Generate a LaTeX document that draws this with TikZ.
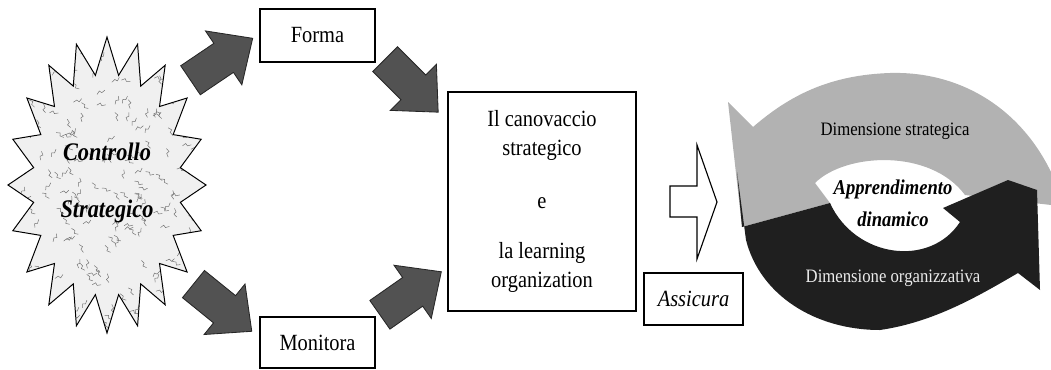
\documentclass[tikz,border=0pt]{standalone}
\usepackage{fontspec}
\setmainfont{Liberation Serif}[FakeStretch=0.88]
\usetikzlibrary{positioning}

\tikzset{
  box/.style={draw, line width=0.8pt, inner sep=0pt, font=\fontsize{16.5}{20.6}\selectfont},
  bigarrow/.pic={
    \draw[fill=black!68, draw=black!85, line width=0.6pt]
      (-38,-17.5) -- (2,-17.5) -- (2,-32.5) -- (37,0) -- (2,32.5) -- (2,17.5) -- (-38,17.5) -- cycle;
  }
}

\newcommand{\starpath}{(107,37) \foreach \k [evaluate=\k as \r using {1-0.25*isodd(\k)}] in {1,...,39}{
  -- ({107+99*\r*cos(9*\k-90)}, {185+148*\r*sin(9*\k-90)}) } -- cycle}

\begin{document}
\begin{tikzpicture}[x=0.025cm, y=-0.025cm]
\useasboundingbox (0,0) rectangle (1051,369);

% Controllo strategico
\fill[black!6] \starpath;
\begin{scope}
\clip \starpath;
\pgfmathsetseed{11}
\foreach \i in {1,...,260}{
  \pgfmathsetmacro\sx{107+100*rand}
  \pgfmathsetmacro\sy{185+150*rand}
  \pgfmathsetmacro\sa{180*rand}
  \draw[black!55, line width=0.35pt] (\sx,\sy) -- ++(\sa:4) -- ++(\sa+70:3) -- ++(\sa-20:4);
}
\end{scope}
\draw[line width=0.7pt] \starpath;
\node[font=\fontsize{18}{40}\selectfont\bfseries\itshape, align=center] (ctrl) at (107,183) {Controllo\\Strategico};

% Boxes
\node[box, minimum width=2.875cm, minimum height=1.325cm] (forma) at (317.5,35.5) {Forma};
\node[box, minimum width=2.875cm, minimum height=1.275cm] (monitora) at (317.5,342.5) {Monitora};
\node[box, minimum width=4.7cm, minimum height=5.475cm, align=center] (canovaccio) at (542,201.5)
  {Il canovaccio\\strategico\\[17pt]e\\[15pt]la learning\\organization};
\node[box, minimum width=2.475cm, minimum height=1.3cm, font=\fontsize{16.5}{20.6}\selectfont\itshape] (assicura) at (693.5,299) {Assicura};

% Block arrows
\pic[rotate=34] at (222,59) {bigarrow};
\pic[rotate=-45] at (412,86) {bigarrow};
\pic[rotate=-39] at (223,308) {bigarrow};
\pic[rotate=35] at (411,293) {bigarrow};

% Hollow arrow
\draw[fill=white, line width=0.8pt] (670,186) -- (697,186) -- (697,145) -- (717,202) -- (697,259) -- (697,217) -- (670,217) -- cycle;

% Dimensione strategica
\fill[black!30] (728,102) -- (753,127) .. controls (790,95) and (830,75) .. (890,73)
  .. controls (960,71) and (1020,108) .. (1051,172) -- (1051,205) -- (965,195)
  .. controls (930,148) and (845,153) .. (815,183) -- (830,203) -- (742,227) -- cycle;

% Dimensione organizzativa
\fill[black!88] (742,227) -- (830,203) .. controls (855,258) and (930,268) .. (960,222)
  -- (943,208) -- (1008,180) -- (1037,190) -- (1040,290) -- (1018,273)
  .. controls (980,295) and (935,322) .. (880,330)
  .. controls (815,330) and (760,295) .. (746,240) -- (737,172) -- cycle;

\node[font=\fontsize{13.5}{14}\selectfont] (strat) at (895,131) {Dimensione strategica};
\node[font=\fontsize{13.5}{14}\selectfont, text=black!8] (org) at (893,278) {Dimensione organizzativa};
\node[font=\fontsize{15}{23}\selectfont\bfseries\itshape, align=center] (appr) at (893,203) {Apprendimento\\dinamico};

\end{tikzpicture}
\end{document}
